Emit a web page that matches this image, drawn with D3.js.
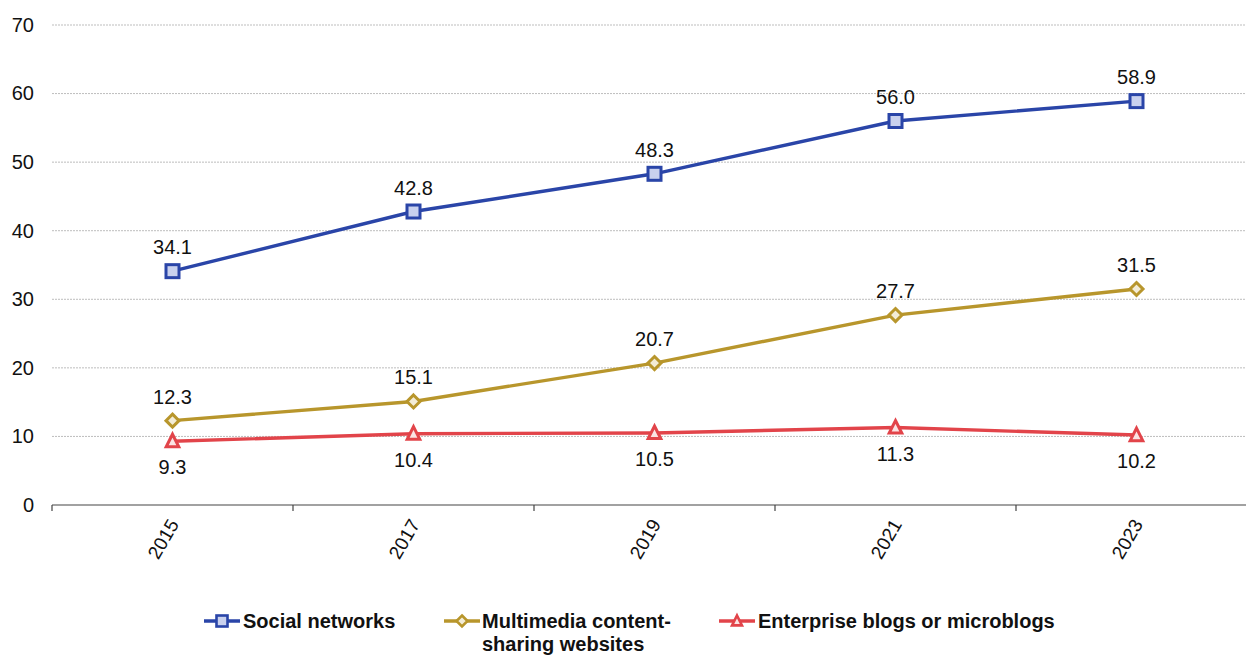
<!DOCTYPE html>
<html>
<head>
<meta charset="utf-8">
<script src="https://cdn.jsdelivr.net/npm/d3@7"></script>
<style>
  html, body { margin: 0; padding: 0; background: #fff; }
  svg { display: block; font-family: "Liberation Sans", Arial, sans-serif; }
</style>
</head>
<body>
<svg id="chart" width="1246" height="655"></svg>
<script>
// Share of enterprises using each type of social media (%)
const years = ["2015", "2017", "2019", "2021", "2023"];
const socialNetworks = [34.1, 42.8, 48.3, 56.0, 58.9];
const multimedia = [12.3, 15.1, 20.7, 27.7, 31.5];
const blogs = [9.3, 10.4, 10.5, 11.3, 10.2];
const yTicks = [0, 10, 20, 30, 40, 50, 60, 70];

const series = [
  { name: ["Social networks"], values: socialNetworks, color: "#2a45a8", fill: "#c9d1ee", symbol: "square", labelPos: "above" },
  { name: ["Multimedia content-", "sharing websites"], values: multimedia, color: "#b8962c", fill: "#f3ecd6", symbol: "diamond", labelPos: "above" },
  { name: ["Enterprise blogs or microblogs"], values: blogs, color: "#e2444a", fill: "#fbe3e3", symbol: "triangle", labelPos: "below" }
];

const svg = d3.select("#chart");
const plotLeft = 52, plotRight = 1257, plotTop = 25, plotBottom = 505;

const x = d3.scaleBand().domain(years).range([plotLeft, plotRight]);
const y = d3.scaleLinear().domain([0, 70]).range([plotBottom, plotTop]);

// horizontal gridlines
svg.append("g").selectAll("line")
  .data(yTicks.filter(d => d > 0))
  .join("line")
  .attr("x1", plotLeft).attr("x2", 1246)
  .attr("y1", d => y(d)).attr("y2", d => y(d))
  .attr("stroke", "#bdbdbd").attr("stroke-width", 1)
  .attr("stroke-dasharray", "2,1");

// y axis labels
const yAxis = d3.axisLeft(y).tickValues(yTicks).tickSize(0).tickPadding(0).tickFormat(d3.format("d"));
const yg = svg.append("g").attr("transform", `translate(34,0)`).call(yAxis);
yg.select(".domain").remove();
yg.selectAll("text").attr("font-size", 20).attr("fill", "#111").attr("font-family", "Liberation Sans, Arial, sans-serif");

// x axis with category boundary ticks
const xg = svg.append("g").attr("transform", `translate(0,${plotBottom})`);
xg.append("line").attr("x1", plotLeft).attr("x2", plotRight).attr("y1", 0).attr("y2", 0)
  .attr("stroke", "#444").attr("stroke-width", 1.2);
const boundaries = years.map(d => x(d)).concat([x(years[years.length - 1]) + x.bandwidth()]);
xg.selectAll("line.tick").data(boundaries).join("line").attr("class", "tick")
  .attr("x1", d => d).attr("x2", d => d).attr("y1", 0).attr("y2", 6)
  .attr("stroke", "#444").attr("stroke-width", 1.2);
xg.selectAll("text").data(years).join("text")
  .attr("transform", d => `translate(${x(d) + x.bandwidth() / 2 + 7},${19}) rotate(-60)`)
  .attr("text-anchor", "end")
  .attr("font-size", 19).attr("fill", "#111")
  .text(d => d);

const cx = d => x(d) + x.bandwidth() / 2;

function drawSymbol(g, type, color, fill, px, py, s, sw) {
  if (type === "square") {
    g.append("rect").attr("x", px - s).attr("y", py - s).attr("width", 2 * s).attr("height", 2 * s)
      .attr("fill", fill).attr("stroke", color).attr("stroke-width", sw);
  } else if (type === "diamond") {
    g.append("path").attr("d", `M${px},${py - s}L${px + s},${py}L${px},${py + s}L${px - s},${py}Z`)
      .attr("fill", fill).attr("stroke", color).attr("stroke-width", sw);
  } else {
    g.append("path").attr("d", `M${px},${py - s}L${px + s * 0.9},${py + s * 0.8}L${px - s * 0.9},${py + s * 0.8}Z`)
      .attr("fill", fill).attr("stroke", color).attr("stroke-width", sw).attr("stroke-linejoin", "miter");
  }
}

const line = d3.line().x((d, i) => cx(years[i])).y(d => y(d));
const sizes = { square: 6.5, diamond: 6.5, triangle: 7 };

series.forEach(s => {
  const g = svg.append("g");
  g.append("path").datum(s.values).attr("d", line)
    .attr("fill", "none").attr("stroke", s.color).attr("stroke-width", 3.4);
  s.values.forEach((v, i) => drawSymbol(g, s.symbol, s.color, s.fill, cx(years[i]), y(v), sizes[s.symbol], 3));
  g.selectAll("text").data(s.values).join("text")
    .attr("x", (d, i) => cx(years[i]))
    .attr("y", d => s.labelPos === "above" ? y(d) - 17 : y(d) + 33)
    .attr("text-anchor", "middle").attr("font-size", 20).attr("fill", "#111")
    .text(d => d3.format(".1f")(d));
});

// legend
const legendItems = [
  { s: series[0], lx: 222, tx: 243 },
  { s: series[1], lx: 462, tx: 482 },
  { s: series[2], lx: 737, tx: 758 }
];
const ly = 621;
legendItems.forEach(({ s, lx, tx }) => {
  const g = svg.append("g");
  g.append("line").attr("x1", lx - 18).attr("x2", lx + 18).attr("y1", ly).attr("y2", ly)
    .attr("stroke", s.color).attr("stroke-width", 3.4);
  drawSymbol(g, s.symbol, s.color, s.fill, lx, ly, 5.5, 2.6);
  s.name.forEach((t, k) => {
    g.append("text").attr("x", tx).attr("y", ly + 7 + k * 23)
      .attr("font-size", 20).attr("font-weight", "bold").attr("fill", "#111").text(t);
  });
});
</script>
</body>
</html>
